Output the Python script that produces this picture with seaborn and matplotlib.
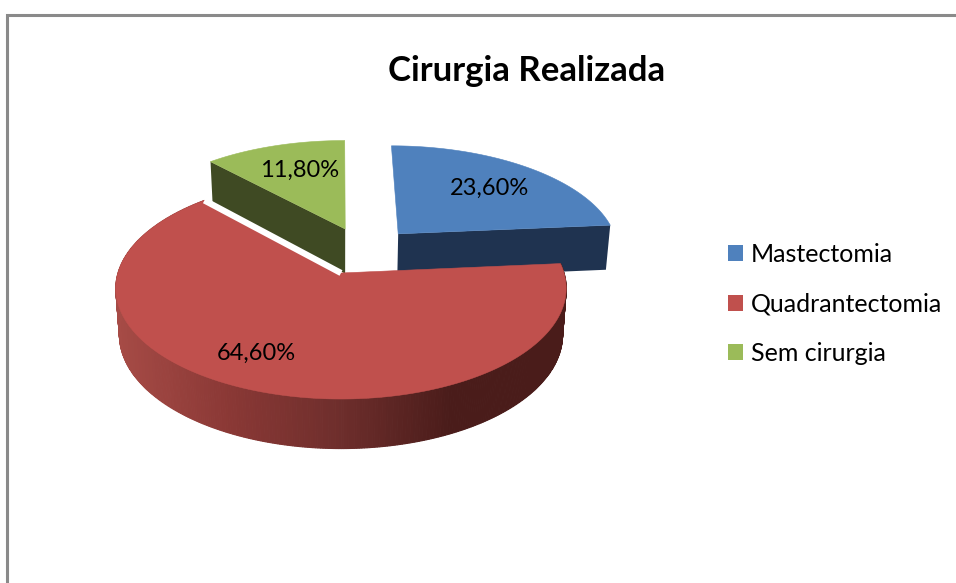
"""Cirurgia Realizada - exploded 3D pie, drawn as projected polygons."""
import numpy as np
import matplotlib

matplotlib.use("Agg")
import matplotlib.pyplot as plt
from matplotlib.patches import Patch
import seaborn as sns

categories = ["Mastectomia", "Quadrantectomia", "Sem cirurgia"]
values = [23.6, 64.6, 11.8]
labels = ["23,60%", "64,60%", "11,80%"]

top_colors = ["#4F81BD", "#C0504D", "#9BBB59"]
wall_colors = ["#1F3350", "#1F3350", "#3F4A23"]
red_wall = ["#A64B46", "#8A3835", "#6E2E2C", "#4A1C1A", "#4A1C1A"]

sns.set_theme(style="white")
plt.rcParams["font.family"] = ["Lato", "DejaVu Sans"]

# projection of the pie plane to pixels
CX, CY = 341, 273
RADIUS = 223
TILT = 108.5
PERSP = 7.2
DEPTH = 46
# centre shift of each slice in the plane (right, back)
shift = [(0.27, 0.38), (0.0, 0.0), (0.02, 0.43)]
radius = [1.02, 1.0, 1.04]


def project(x, back, drop=0.0):
    s = PERSP / (PERSP + back)
    return CX + RADIUS * x * s * (1 - drop * 0.00035), CY - TILT * back * s + drop * np.sqrt(s)


def slice_points(i, a0, a1, drop=0.0):
    t = np.radians(np.linspace(a0, a1, 400))
    x = shift[i][0] + radius[i] * np.sin(t)
    b = shift[i][1] + radius[i] * np.cos(t)
    return project(x, b, drop)


fig = plt.figure(figsize=(9.56, 5.83), dpi=100)
ax = fig.add_axes([0, 0, 1, 1])
ax.set_xlim(0, 956)
ax.set_ylim(583, 0)
ax.axis("off")

# chart frame
ax.plot([7.5, 7.5, 956], [583, 15, 15], color="#8A8A8A", lw=2.2, solid_joinstyle="miter")

cum = np.cumsum([0] + values) / sum(values) * 360
starts, ends = cum[:-1], cum[1:]

for i in [2, 0, 1]:
    a0, a1 = starts[i], ends[i]
    cx, cy = project(*shift[i])
    cxb, cyb = project(*shift[i], DEPTH)
    xt, yt = slice_points(i, a0, a1)
    xb, yb = slice_points(i, a0, a1, DEPTH)

    # flat cut faces
    if i == 0:
        ax.fill([cx, xt[-1], xb[-1], cxb], [cy, yt[-1], yb[-1], cyb], color=wall_colors[i], lw=0)
    if i == 2:
        ax.fill([cx, xt[0], xb[0], cxb], [cy, yt[0], yb[0], cyb], color=wall_colors[i], lw=0)

    # rounded outer wall
    if i == 1:
        pal = sns.blend_palette(red_wall, 128)
        span = xt.max() - xt.min()
        for k in range(len(xt) - 1):
            c = pal[int(np.clip((xt[k] - xt.min()) / span, 0, 0.999) * 128)]
            ax.fill([xt[k], xt[k + 1], xb[k + 1], xb[k]], [yt[k], yt[k + 1], yb[k + 1], yb[k]],
                    color=c, lw=0.8)
        # white gap between the red slice and the green wall behind it
        ax.plot([cx, xt[-1]], [cy, yt[-1]], color="white", lw=4.5, solid_capstyle="butt")

    ax.fill(np.r_[cx, xt], np.r_[cy, yt], color=top_colors[i], lw=0.4)

ax.text(490, 188, labels[0], ha="center", va="center", fontsize=17, color="black")
ax.text(256, 353, labels[1], ha="center", va="center", fontsize=17, color="black")
ax.text(300, 170, labels[2], ha="center", va="center", fontsize=17, color="black")

ax.text(527, 71, "Cirurgia Realizada", ha="center", va="center", fontsize=25, fontweight="bold", color="black")

handles = [Patch(color=c, lw=0) for c in top_colors]
ax.legend(handles, categories, loc="center left", bbox_to_anchor=(728 / 956, 1 - 304 / 583),
          frameon=False, fontsize=18, handlelength=0.6, handleheight=0.6, handletextpad=0.32,
          labelspacing=1.06, borderpad=0, borderaxespad=0, labelcolor="black")

fig.savefig("out.png", dpi=100)
